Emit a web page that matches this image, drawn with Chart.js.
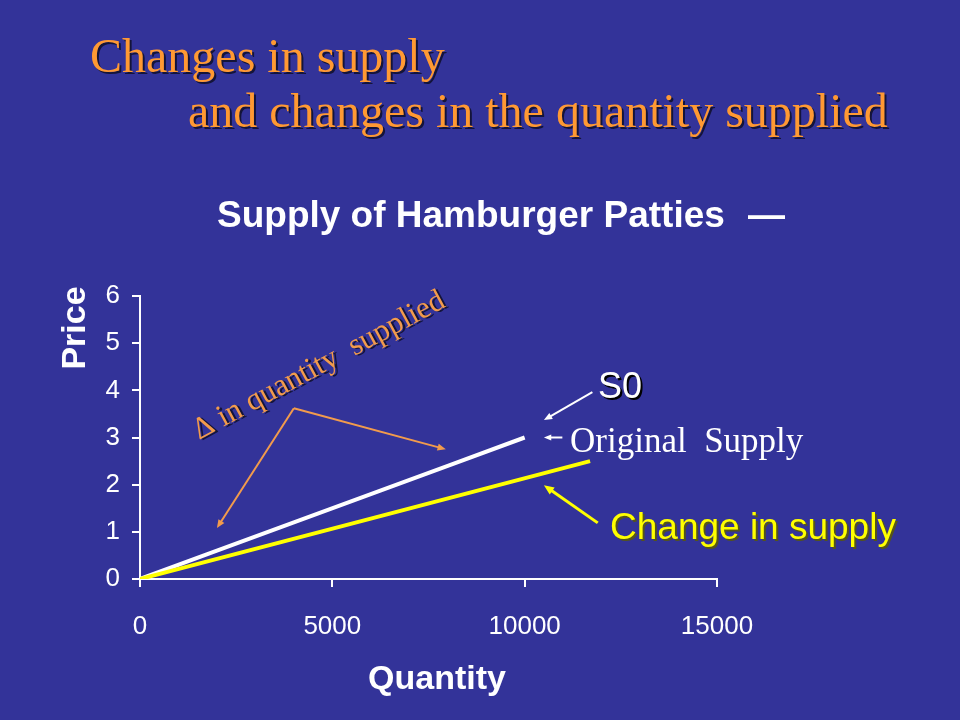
<!DOCTYPE html>
<html>
<head>
<meta charset="utf-8">
<title>Supply of Hamburger Patties</title>
<script src="https://cdn.jsdelivr.net/npm/chart.js@4.4.1/dist/chart.umd.min.js"></script>
<style>
  html, body { margin: 0; padding: 0; background: #333399; }
  #wrap { width: 960px; height: 720px; }
</style>
</head>
<body>
<div id="wrap"><canvas id="supplyChart" width="960" height="720"></canvas></div>
<script>
// Original supply curve S0 (quantity, price)
const supplyQty = [0, 2000, 4000, 6000, 8000, 10000];
const supplyPrice = [0, 0.6, 1.2, 1.8, 2.4, 3.0];

// Shifted supply curve ("change in supply")
const shiftQty = [0, 6000, 11700];
const shiftPrice = [0, 1.28, 2.5];

// Axis ticks
const xTicks = [0, 5000, 10000, 15000];
const yTicks = [0, 1, 2, 3, 4, 5, 6];

// Annotation arrows, in data units [quantity, price]
const annotationArrows = [
    { from: [4000, 3.62], to: [2000, 1.08], color: '#F29B4C', width: 2, head: 9 },
    { from: [4000, 3.62], to: [7950, 2.75], color: '#F29B4C', width: 2, head: 9 },
    { from: [11760, 3.96], to: [10500, 3.37], color: '#FFFFFF', width: 2, head: 9 },
    { from: [10980, 3.0], to: [10500, 3.0], color: '#FFFFFF', width: 2, head: 8 },
    { from: [11900, 1.19], to: [10500, 1.99], color: '#FFFF00', width: 3, head: 11 }
];

function toPoints(xs, ys) {
    return xs.map((x, i) => ({ x: x, y: ys[i] }));
}

function drawArrow(ctx, x1, y1, x2, y2, color, width, head) {
    const ang = Math.atan2(y2 - y1, x2 - x1);
    ctx.save();
    ctx.strokeStyle = color;
    ctx.fillStyle = color;
    ctx.lineWidth = width;
    ctx.beginPath();
    ctx.moveTo(x1, y1);
    ctx.lineTo(x2 - Math.cos(ang) * head * 0.6, y2 - Math.sin(ang) * head * 0.6);
    ctx.stroke();
    ctx.beginPath();
    ctx.moveTo(x2, y2);
    ctx.lineTo(x2 - head * Math.cos(ang - 0.4), y2 - head * Math.sin(ang - 0.4));
    ctx.lineTo(x2 - head * Math.cos(ang + 0.4), y2 - head * Math.sin(ang + 0.4));
    ctx.closePath();
    ctx.fill();
    ctx.restore();
}

function shadowText(ctx, text, x, y, font, color, shadow) {
    ctx.save();
    ctx.font = font;
    ctx.textBaseline = 'alphabetic';
    ctx.textAlign = 'left';
    if (shadow) {
        ctx.fillStyle = shadow;
        ctx.fillText(text, x + 2, y + 2);
    }
    ctx.fillStyle = color;
    ctx.fillText(text, x, y);
    ctx.restore();
}

// Slide background, titles, labels and arrows
const slidePlugin = {
    id: 'slide',
    beforeDraw(chart) {
        const ctx = chart.ctx;
        ctx.save();
        ctx.fillStyle = '#333399';
        ctx.fillRect(0, 0, chart.width, chart.height);
        ctx.restore();
    },
    afterDraw(chart) {
        const ctx = chart.ctx;
        const xs = chart.scales.x;
        const ys = chart.scales.y;

        // slide title
        shadowText(ctx, 'Changes in supply', 90, 72, '48px "Liberation Serif"', '#FF9933', '#14143a');
        shadowText(ctx, 'and changes in the quantity supplied', 188, 127, '48px "Liberation Serif"', '#FF9933', '#14143a');

        // chart title and legend dash
        shadowText(ctx, 'Supply of Hamburger Patties', 217, 227, 'bold 37px "Liberation Sans"', '#FFFFFF', null);
        shadowText(ctx, '\u2014', 748, 227, 'bold 37px "Liberation Sans"', '#FFFFFF', null);

        // axis titles
        ctx.save();
        ctx.font = 'bold 34px "Liberation Sans"';
        ctx.fillStyle = '#FFFFFF';
        ctx.textAlign = 'center';
        ctx.textBaseline = 'middle';
        ctx.fillText('Quantity', 437, 680);
        ctx.translate(76, 328);
        ctx.rotate(-Math.PI / 2);
        ctx.fillText('Price', 0, 0);
        ctx.restore();

        // arrows
        annotationArrows.forEach(a => {
            drawArrow(ctx,
                xs.getPixelForValue(a.from[0]), ys.getPixelForValue(a.from[1]),
                xs.getPixelForValue(a.to[0]), ys.getPixelForValue(a.to[1]),
                a.color, a.width, a.head);
        });

        // curve labels
        shadowText(ctx, 'S0', 598, 398, '36px "Liberation Sans"', '#FFFFFF', '#000000');
        shadowText(ctx, 'Original  Supply', 570, 452, '35px "Liberation Serif"', '#FFFFFF', null);
        shadowText(ctx, 'Change in supply', 610, 539, '37px "Liberation Sans"', '#FFFF00', '#55551a');

        // rotated movement-along-curve label
        ctx.save();
        ctx.translate(199, 440);
        ctx.rotate(-Math.atan2(133, 246));
        shadowText(ctx, '\u0394 in quantity  supplied', 0, 0, '31px "Liberation Serif"', '#F29B4C', '#14143a');
        ctx.restore();
    }
};

var ctx = document.getElementById('supplyChart').getContext('2d');
var supplyChart = new Chart(ctx, {
    type: 'line',
    data: {
        datasets: [{
            label: 'S0',
            data: toPoints(supplyQty, supplyPrice),
            borderColor: '#FFFFFF',
            borderWidth: 4,
            pointRadius: 0,
            tension: 0,
            order: 2
        }, {
            label: 'Change in supply',
            data: toPoints(shiftQty, shiftPrice),
            borderColor: '#FFFF00',
            borderWidth: 4,
            pointRadius: 0,
            tension: 0,
            order: 1
        }]
    },
    options: {
        responsive: false,
        animation: false,
        layout: { padding: { top: 296, right: 243, bottom: 0, left: 0 } },
        plugins: {
            legend: { display: false },
            title: { display: false },
            tooltip: { enabled: false }
        },
        scales: {
            x: {
                type: 'linear',
                min: 0,
                max: 15000,
                afterFit: scale => { scale.height = 141; },
                afterBuildTicks: scale => { scale.ticks = xTicks.map(v => ({ value: v })); },
                ticks: {
                    color: '#FFFFFF',
                    font: { family: 'Liberation Sans', size: 26 },
                    padding: 24,
                    maxRotation: 0,
                    callback: value => String(value)  // plain numbers, no thousands separator
                },
                grid: { drawOnChartArea: false, color: '#FFFFFF', lineWidth: 2, tickLength: 8 },
                border: { color: '#FFFFFF', width: 2 }
            },
            y: {
                type: 'linear',
                min: 0,
                max: 6,
                afterFit: scale => { scale.width = 140; },
                afterBuildTicks: scale => { scale.ticks = yTicks.map(v => ({ value: v })); },
                ticks: {
                    color: '#FFFFFF',
                    font: { family: 'Liberation Sans', size: 26 },
                    padding: 12
                },
                grid: { drawOnChartArea: false, color: '#FFFFFF', lineWidth: 2, tickLength: 8 },
                border: { color: '#FFFFFF', width: 2 }
            }
        }
    },
    plugins: [slidePlugin]
});
</script>
</body>
</html>
